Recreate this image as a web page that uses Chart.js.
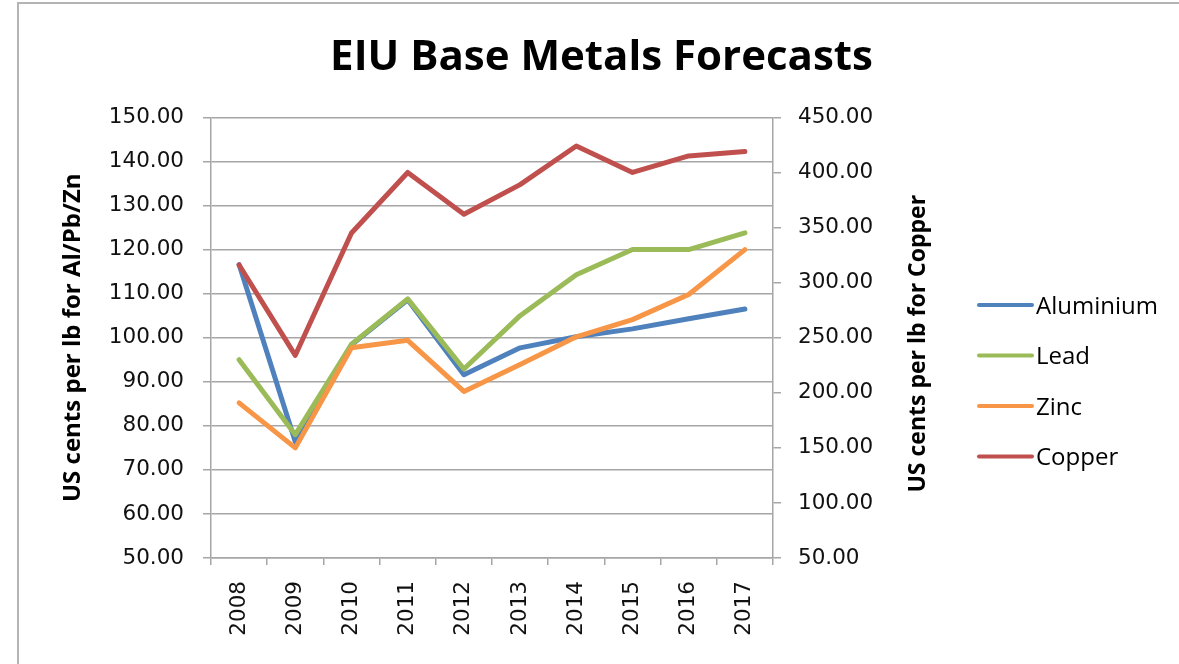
<!DOCTYPE html>
<html>
<head>
<meta charset="utf-8">
<script src="https://cdn.jsdelivr.net/npm/chart.js@4"></script>
<style>
  html, body { margin: 0; padding: 0; background: #fff; }
  #wrap { width: 1179px; height: 664px; }
</style>
</head>
<body>
<div id="wrap"><canvas id="metalsChart" width="1179" height="664"></canvas></div>
<script>
// values (US cents per lb)
const years = ['2008', '2009', '2010', '2011', '2012', '2013', '2014', '2015', '2016', '2017'];
const aluminium = [116.6, 76.4, 98.4, 108.6, 91.6, 97.7, 100.2, 102.0, 104.3, 106.5];
const lead = [95.0, 78.0, 98.5, 108.8, 92.9, 105.0, 114.3, 120.0, 120.0, 123.8];
const zinc = [85.2, 75.0, 97.7, 99.4, 87.8, 93.9, 100.2, 104.1, 109.8, 120.0];
const copper = [316, 234, 345, 400, 362, 389, 424, 400, 415, 419];

const seriesNames = ['Aluminium', 'Lead', 'Zinc', 'Copper'];
const seriesColors = ['#4F81BD', '#9BBB59', '#F79646', '#C0504D'];

const gridColor = '#a6a6a6';
const tickFont = { family: 'DejaVu Sans', size: 21.5 };

// white page with the chart frame
const framePlugin = {
  id: 'frame',
  beforeDraw(chart) {
    const ctx = chart.ctx;
    ctx.save();
    ctx.fillStyle = '#ffffff';
    ctx.fillRect(0, 0, chart.width, chart.height);
    ctx.strokeStyle = '#b4b4b4';
    ctx.lineWidth = 2;
    ctx.beginPath();
    ctx.moveTo(18, chart.height);
    ctx.lineTo(18, 3);
    ctx.lineTo(chart.width, 3);
    ctx.stroke();
    ctx.restore();
  }
};

// right axis title (reads bottom to top, like the left one) and the legend
const sidePlugin = {
  id: 'side',
  afterDraw(chart) {
    const ctx = chart.ctx;
    const area = chart.chartArea;
    ctx.save();
    ctx.fillStyle = '#000';
    ctx.font = 'bold 23px "Open Sans"';
    ctx.textAlign = 'center';
    ctx.textBaseline = 'middle';
    ctx.translate(918, (area.top + area.bottom) / 2 + 6);
    ctx.rotate(-Math.PI / 2);
    ctx.fillText('US cents per lb for Copper', 0, 0);
    ctx.restore();

    ctx.save();
    ctx.font = '24px "Open Sans"';
    ctx.textAlign = 'left';
    ctx.textBaseline = 'middle';
    ctx.lineCap = 'round';
    ctx.lineWidth = 4;
    chart.data.datasets.forEach((ds, i) => {
      const y = 305 + i * 50.5;
      ctx.strokeStyle = ds.borderColor;
      ctx.beginPath();
      ctx.moveTo(979, y);
      ctx.lineTo(1032, y);
      ctx.stroke();
      ctx.fillStyle = '#000';
      ctx.fillText(ds.label, 1036, y + 2);
    });
    ctx.restore();
  }
};

function lineSet(i, data, axis, order) {
  return {
    label: seriesNames[i],
    data: data,
    yAxisID: axis,
    borderColor: seriesColors[i],
    backgroundColor: seriesColors[i],
    borderWidth: 5,
    borderJoinStyle: 'round',
    borderCapStyle: 'round',
    pointRadius: 0,
    tension: 0,
    order: order
  };
}

new Chart(document.getElementById('metalsChart').getContext('2d'), {
  type: 'line',
  data: {
    labels: years,
    datasets: [
      lineSet(0, aluminium, 'y', 4),
      lineSet(1, lead, 'y', 3),
      lineSet(2, zinc, 'y', 2),
      lineSet(3, copper, 'y1', 1)
    ]
  },
  options: {
    responsive: false,
    animation: false,
    layout: { padding: { left: 24 } },
    plugins: {
      legend: { display: false },
      tooltip: { enabled: false },
      title: {
        display: true,
        text: 'EIU Base Metals Forecasts',
        color: '#000',
        font: { family: 'Open Sans', size: 42, weight: 'bold' },
        padding: { top: 33, bottom: 34 }
      }
    },
    scales: {
      x: {
        offset: true,
        grid: {
          offset: true,
          drawOnChartArea: false,
          color: gridColor,
          lineWidth: 1.5,
          tickLength: 7
        },
        border: { color: gridColor, width: 1.5 },
        ticks: {
          minRotation: 90,
          maxRotation: 90,
          padding: 16,
          color: '#111',
          font: tickFont
        },
        afterFit(scale) { scale.height = 106; }
      },
      y: {
        position: 'left',
        min: 50,
        max: 150,
        grid: { color: gridColor, lineWidth: 1.5, tickLength: 8 },
        border: { color: gridColor, width: 1.5 },
        ticks: {
          stepSize: 10,
          padding: 19,
          color: '#111',
          font: tickFont,
          callback: (v) => v.toFixed(2)
        },
        title: {
          display: true,
          text: 'US cents per lb for Al/Pb/Zn',
          color: '#000',
          font: { family: 'Open Sans', size: 24, weight: 'bold' },
          padding: { top: 35, bottom: 0 }
        },
        afterFit(scale) { scale.width = 187; }
      },
      y1: {
        position: 'right',
        min: 50,
        max: 450,
        grid: { drawOnChartArea: false, color: gridColor, lineWidth: 1.5, tickLength: 8 },
        border: { color: gridColor, width: 1.5 },
        ticks: {
          stepSize: 50,
          padding: 17,
          color: '#111',
          font: tickFont,
          callback: (v) => v.toFixed(2)
        },
        afterFit(scale) { scale.width = 406; }
      }
    }
  },
  plugins: [framePlugin, sidePlugin]
});
</script>
</body>
</html>
